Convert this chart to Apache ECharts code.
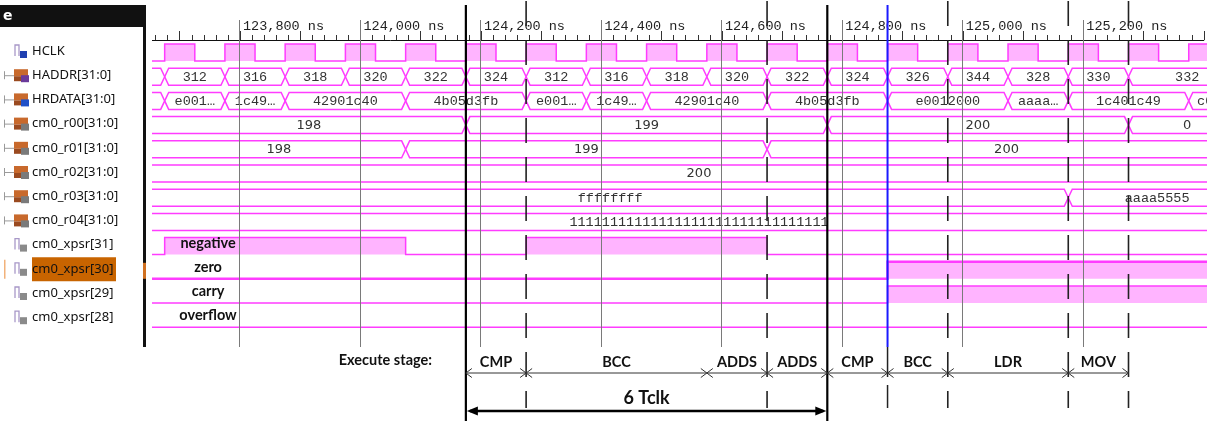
<!DOCTYPE html>
<html>
<head>
<meta charset="utf-8">
<script src="https://cdn.jsdelivr.net/npm/echarts@6/dist/echarts.min.js"></script>
<style>
html,body{margin:0;padding:0;background:#ffffff;}
#chart{width:1207px;height:421px;}
</style>
</head>
<body>
<div id="chart"></div>
<script>
// ================= DATA =================
const signalNames = ['HCLK','HADDR[31:0]','HRDATA[31:0]','cm0_r00[31:0]','cm0_r01[31:0]','cm0_r02[31:0]','cm0_r03[31:0]','cm0_r04[31:0]','cm0_xpsr[31]','cm0_xpsr[30]','cm0_xpsr[29]','cm0_xpsr[28]'];
const signalKinds = ['clk','bus','bus','bus','bus','bus','bus','bus','bit','bit','bit','bit'];

const clockRises = [123675,123775,123875,123975,124075,124175,124275,124375,124475,124575,124675,124775,124875,124975,125075,125175,125275,125375];
const clockFalls = [123725,123825,123925,124025,124125,124225,124325,124425,124525,124625,124725,124825,124925,125025,125125,125225,125325,125425];

const haddrTimes  = [123500,123675,123775,123875,123975,124075,124175,124275,124375,124475,124575,124675,124775,124875,124975,125075,125175,125275];
const haddrValues = ['','312','316','318','320','322','324','312','316','318','320','322','324','326','344','328','330','332'];

const hrdataTimes  = [123500,123675,123775,123875,124075,124275,124375,124475,124675,124875,125075,125175,125375];
const hrdataValues = ['','e001…','1c49…','42901c40','4b05d3fb','e001…','1c49…','42901c40','4b05d3fb','e0012000','aaaa…','1c401c49','c04b…'];

const r00Times = [123500,124175,124775,125275];
const r00Values = ['198','199','200','0'];
const r01Times = [123500,124075,124675];
const r01Values = ['198','199','200'];
const r02Times = [123500];
const r02Values = ['200'];
const r03Times = [123500,125175];
const r03Values = ['ffffffff','aaaa5555'];
const r04Times = [123500];
const r04Values = ['11111111111111111111111111111111'];

const negTimes = [123500,123675,124075,124275,124675];
const negLevels = [0,1,0,1,0];
const zeroTimes = [123500,124875];
const zeroLevels = [0,1];
const carryTimes = [123500,124875];
const carryLevels = [0,1];
const ovfTimes = [123500];
const ovfLevels = [0];
const flagNames = ['negative','zero','carry','overflow'];

const rulerTimes = [123800,124000,124200,124400,124600,124800,125000,125200];
const thickMarkerTimes = [124175,124775];
const dashedMarkerTimes = [124275,124675,124975,125175,125275];
const cursorTime = 124875;

const stageNames = ['CMP','BCC','ADDS','ADDS','CMP','BCC','LDR','MOV'];
const stageBounds = [124175,124275,124575,124675,124775,124875,124975,125175,125275];
const spanTimes = [124175,124775];
const spanLabel = '6 Tclk';

// ================= LAYOUT / STYLE =================
const AX_MIN = 123600, AX_MAX = 125400;
const VIS_START = 123654, VIS_END = 125470, T_FAR = 125700;
const FLAG_LABEL_T = 123747;
const ROW_TOP = 0.166, ROW_BOT = 0.868, ROW_MID = 0.517;
const SELECTED_ROW = 9;
const MAG = '#ff3cff', PINK = '#ffb4ff';
const MONO = '13.5px "Liberation Mono", monospace';
const SANS = '13px "DejaVu Sans", sans-serif';
const BOLD = 'bold 14.5px Lato, "Open Sans", sans-serif';
const busFont = {1:MONO,2:MONO,3:SANS,4:SANS,5:SANS,6:MONO,7:MONO};
const RULER_TOP = 20, WAVE_BOTTOM = 347, MARK_TOP = 5, THICK_BOTTOM = 421, DASH_BOTTOM = 408;
const STAGE_Y = 373, STAGE_LABEL_Y = 362, SPAN_Y = 411, SPAN_LABEL_Y = 398;

// ================= BUILD =================
const busRows = [
  {row:1, times:haddrTimes, values:haddrValues},
  {row:2, times:hrdataTimes, values:hrdataValues},
  {row:3, times:r00Times, values:r00Values},
  {row:4, times:r01Times, values:r01Values},
  {row:5, times:r02Times, values:r02Values},
  {row:6, times:r03Times, values:r03Values},
  {row:7, times:r04Times, values:r04Values}
];
const busItems = [];
busRows.forEach(b => {
  b.times.forEach((t, k) => {
    busItems.push({row:b.row, ts:t, te:(k + 1 < b.times.length ? b.times[k + 1] : T_FAR), label:b.values[k]});
  });
});

const clockTimes = [123500], clockLevels = [0];
clockRises.forEach((r, k) => { clockTimes.push(r, clockFalls[k]); clockLevels.push(1, 0); });
const bitRows = [
  {row:0, times:clockTimes, levels:clockLevels},
  {row:8, times:negTimes, levels:negLevels},
  {row:9, times:zeroTimes, levels:zeroLevels},
  {row:10, times:carryTimes, levels:carryLevels},
  {row:11, times:ovfTimes, levels:ovfLevels}
];

function xPix(api, t) { return api.coord([t, 0])[0]; }
function yPix(api, v) { return api.coord([VIS_START, v])[1]; }
function crisp(x) { return Math.round(x - 0.5) + 0.5; }
function fmtNs(v) { return String(v).replace(/\B(?=(\d{3})+(?!\d))/g, ',') + ' ns'; }

function renderBus(params, api) {
  const s = busItems[params.dataIndex];
  const x0 = xPix(api, s.ts), x1 = xPix(api, s.te);
  const yt = yPix(api, s.row + ROW_TOP), yb = yPix(api, s.row + ROW_BOT), ym = (yt + yb) / 2;
  const d = 4;
  const children = [{
    type:'polygon',
    shape:{points:[[x0,ym],[x0+d,yt],[x1-d,yt],[x1,ym],[x1-d,yb],[x0+d,yb]]},
    style:{fill:'none', stroke:MAG, lineWidth:1.5}
  }];
  if (s.label) {
    const xa = xPix(api, Math.max(s.ts, VIS_START));
    const xb = xPix(api, Math.min(s.te, VIS_END));
    children.push({type:'text', style:{text:s.label, x:(xa+xb)/2, y:ym+0.5, align:'center', verticalAlign:'middle',
      textAlign:'center', textVerticalAlign:'middle', font:busFont[s.row], fill:'#333'}});
  }
  return {type:'group', children};
}

function renderBits(params, api) {
  const b = bitRows[params.dataIndex];
  const yHi = yPix(api, b.row + ROW_TOP), yLo = yPix(api, b.row + ROW_BOT);
  const children = [], pts = [];
  for (let k = 0; k < b.times.length; k++) {
    const x0 = xPix(api, b.times[k]);
    const x1 = xPix(api, k + 1 < b.times.length ? b.times[k + 1] : T_FAR);
    const y = b.levels[k] ? yHi : yLo;
    if (b.levels[k]) children.push({type:'rect', shape:{x:x0, y:yHi, width:x1-x0, height:yLo-yHi}, style:{fill:PINK}});
    pts.push([x0, y], [x1, y]);
  }
  children.push({type:'polyline', shape:{points:pts}, style:{fill:'none', stroke:MAG, lineWidth:(b.row === SELECTED_ROW ? 2.4 : 1.5)}});
  return {type:'group', children};
}

function renderFlags(params, api) {
  const i = params.dataIndex;
  const row = 8 + i;
  const x = xPix(api, FLAG_LABEL_T);
  const y = yPix(api, row + ROW_MID) - 3;
  return {type:'text', style:{text:flagNames[i], x, y, align:'center', verticalAlign:'middle', textAlign:'center', textVerticalAlign:'middle', font:BOLD, fill:'#111'}};
}

function renderRuler(params, api) {
  const x = crisp(xPix(api, rulerTimes[params.dataIndex]));
  return {type:'line', shape:{x1:x, y1:RULER_TOP, x2:x, y2:WAVE_BOTTOM}, style:{stroke:'#7a7a7a', lineWidth:1}};
}

function renderMarkers(params, api) {
  const children = [];
  dashedMarkerTimes.forEach(t => {
    const x = xPix(api, t);
    children.push({type:'line', shape:{x1:x, y1:1, x2:x, y2:DASH_BOTTOM}, style:{stroke:'#222', lineWidth:1.6, lineDash:[25,14]}});
  });
  thickMarkerTimes.forEach(t => {
    const x = xPix(api, t);
    children.push({type:'line', shape:{x1:x, y1:MARK_TOP, x2:x, y2:THICK_BOTTOM}, style:{stroke:'#000', lineWidth:2.2}});
  });
  const xc = xPix(api, cursorTime);
  children.push({type:'line', shape:{x1:xc, y1:MARK_TOP, x2:xc, y2:WAVE_BOTTOM}, style:{stroke:'#1a1aff', lineWidth:2}});
  children.push({type:'line', shape:{x1:xc, y1:WAVE_BOTTOM, x2:xc, y2:STAGE_Y + 4}, style:{stroke:'#222', lineWidth:1.5}});
  children.push({type:'line', shape:{x1:xc, y1:STAGE_Y + 12, x2:xc, y2:DASH_BOTTOM}, style:{stroke:'#222', lineWidth:1.5}});
  return {type:'group', children};
}

function renderStages(params, api) {
  const i = params.dataIndex;
  const x0 = xPix(api, stageBounds[i]), x1 = xPix(api, stageBounds[i + 1]);
  const y = STAGE_Y, ah = 6, aw = 4.5, c = '#333';
  return {type:'group', children:[
    {type:'line', shape:{x1:x0, y1:y, x2:x1, y2:y}, style:{stroke:c, lineWidth:1}},
    {type:'polyline', shape:{points:[[x0+ah,y-aw],[x0,y],[x0+ah,y+aw]]}, style:{fill:'none', stroke:c, lineWidth:1}},
    {type:'polyline', shape:{points:[[x1-ah,y-aw],[x1,y],[x1-ah,y+aw]]}, style:{fill:'none', stroke:c, lineWidth:1}},
    {type:'text', style:{text:stageNames[i], x:(x0+x1)/2, y:STAGE_LABEL_Y, align:'center', verticalAlign:'middle', textAlign:'center', textVerticalAlign:'middle', font:BOLD, fill:'#111'}}
  ]};
}

function renderSpan(params, api) {
  const x0 = xPix(api, spanTimes[0]), x1 = xPix(api, spanTimes[1]);
  const y = SPAN_Y, ah = 12, aw = 4.5;
  return {type:'group', children:[
    {type:'line', shape:{x1:x0+4, y1:y, x2:x1-4, y2:y}, style:{stroke:'#000', lineWidth:2.4}},
    {type:'polygon', shape:{points:[[x0+1,y],[x0+ah,y-aw],[x0+ah,y+aw]]}, style:{fill:'#000'}},
    {type:'polygon', shape:{points:[[x1-1,y],[x1-ah,y-aw],[x1-ah,y+aw]]}, style:{fill:'#000'}},
    {type:'text', style:{text:spanLabel, x:(x0+x1)/2, y:SPAN_LABEL_Y, align:'center', verticalAlign:'middle', textAlign:'center', textVerticalAlign:'middle', font:'bold 18px Lato, "Open Sans", sans-serif', fill:'#111'}}
  ]};
}

const option = {
  animation:false,
  backgroundColor:'#ffffff',
  grid:{left:119.5, right:3.2, top:40, bottom:74, containLabel:false},
  xAxis:{
    type:'value', position:'top', min:AX_MIN, max:AX_MAX, interval:100,
    axisLine:{show:true, lineStyle:{color:'#111', width:1}},
    axisTick:{show:true, length:9, lineStyle:{color:'#333', width:1}},
    minorTick:{show:true, splitNumber:5, length:5, lineStyle:{color:'#333', width:1}},
    splitLine:{show:false},
    axisLabel:{
      show:true, margin:7, align:'left', padding:[0,0,0,3],
      fontFamily:'"Liberation Mono", monospace', fontSize:13.5, color:'#222',
      showMinLabel:true, showMaxLabel:true, hideOverlap:false,
      formatter:function(v){ return (v % 200 === 0 && v > VIS_START && v < AX_MAX) ? fmtNs(v) : ''; }
    }
  },
  yAxis:{type:'value', inverse:true, min:0, max:12.686, show:false},
  series:[
    {type:'custom', name:'bits', coordinateSystem:'cartesian2d', clip:false, z:3,
      data:bitRows.map(b => [VIS_START, b.row]), encode:{x:0, y:1}, renderItem:renderBits},
    {type:'custom', name:'bus', coordinateSystem:'cartesian2d', clip:false, z:3,
      data:busItems.map(s => [VIS_START, s.row]), encode:{x:0, y:1}, renderItem:renderBus},
    {type:'custom', name:'flags', coordinateSystem:'cartesian2d', clip:false, z:4,
      data:flagNames.map((f, i) => [FLAG_LABEL_T, 8 + i]), encode:{x:0, y:1}, renderItem:renderFlags},
    {type:'custom', name:'ruler', coordinateSystem:'cartesian2d', clip:false, z:5,
      data:rulerTimes.map(t => [t, 0]), encode:{x:0, y:1}, renderItem:renderRuler},
    {type:'custom', name:'markers', coordinateSystem:'cartesian2d', clip:false, z:6,
      data:[[cursorTime, 0]], encode:{x:0, y:1}, renderItem:renderMarkers},
    {type:'custom', name:'stages', coordinateSystem:'cartesian2d', clip:false, z:6,
      data:stageNames.map((n, i) => [stageBounds[i], 12]), encode:{x:0, y:1}, renderItem:renderStages},
    {type:'custom', name:'span', coordinateSystem:'cartesian2d', clip:false, z:6,
      data:[[spanTimes[0], 12]], encode:{x:0, y:1}, renderItem:renderSpan}
  ]
};

const chart = echarts.init(document.getElementById('chart'), null, {renderer:'canvas'});
chart.setOption(option);

// ---------- left signal panel ----------
const g = [];
const Z = 100;
g.push({type:'rect', z:Z, shape:{x:0, y:0, width:152, height:350}, style:{fill:'#ffffff'}});
g.push({type:'rect', z:Z+1, shape:{x:0, y:5, width:143, height:22}, style:{fill:'#111111'}});
g.push({type:'text', z:Z+2, x:3, y:16, style:{text:'e', font:'bold 14px "DejaVu Sans", sans-serif', fill:'#ffffff', verticalAlign:'middle', textVerticalAlign:'middle'}});
g.push({type:'rect', z:Z+1, shape:{x:143, y:5, width:3, height:342}, style:{fill:'#111111'}});

signalNames.forEach((name, i) => {
  const y = chart.convertToPixel({gridIndex:0}, [VIS_START, i + ROW_MID])[1] - 1.5;
  if (i === SELECTED_ROW) {
    g.push({type:'rect', z:Z+1, shape:{x:32, y:y-11.5, width:84, height:24}, style:{fill:'#c86400'}});
    g.push({type:'rect', z:Z+1, shape:{x:4, y:y-9, width:1.5, height:19}, style:{fill:'#f2b27a'}});
    g.push({type:'rect', z:Z+2, shape:{x:143, y:y-6, width:3, height:16}, style:{fill:'#d07020'}});
  }
  if (signalKinds[i] === 'bus') {
    g.push({type:'line', z:Z+1, shape:{x1:4.5, y1:y-4, x2:4.5, y2:y+4}, style:{stroke:'#9a9a9a', lineWidth:1}});
    g.push({type:'line', z:Z+1, shape:{x1:4.5, y1:y+0.5, x2:14, y2:y+0.5}, style:{stroke:'#9a9a9a', lineWidth:1}});
    g.push({type:'rect', z:Z+1, shape:{x:14, y:y-6, width:14, height:7}, style:{fill:'#c8692c'}});
    g.push({type:'rect', z:Z+1, shape:{x:14, y:y+1, width:8, height:5}, style:{fill:'#9a4a20'}});
    const sq = (i === 2) ? '#2050c8' : (i === 1 ? '#6a3a9a' : '#7a7a7a');
    g.push({type:'rect', z:Z+2, shape:{x:21, y:y, width:8, height:7}, style:{fill:sq}});
  } else {
    g.push({type:'polyline', z:Z+1, shape:{points:[[15,y+5],[15,y-6],[19,y-6],[19,y+5]]}, style:{fill:'none', stroke:'#a898c8', lineWidth:1.3}});
    g.push({type:'rect', z:Z+2, shape:{x:20, y:y, width:7, height:7}, style:{fill:(i === 0 ? '#2040b0' : '#8a8a8a')}});
  }
  g.push({type:'text', z:Z+3, x:32, y:y, style:{text:name, font:'13px "Noto Sans", sans-serif', fill:'#111', verticalAlign:'middle', textVerticalAlign:'middle'}});
});
g.push({type:'text', z:Z, x:432, y:360, style:{text:'Execute stage:', font:BOLD, fill:'#111', align:'right', textAlign:'right', verticalAlign:'middle', textVerticalAlign:'middle'}});
chart.setOption({graphic:g});
</script>
</body>
</html>
